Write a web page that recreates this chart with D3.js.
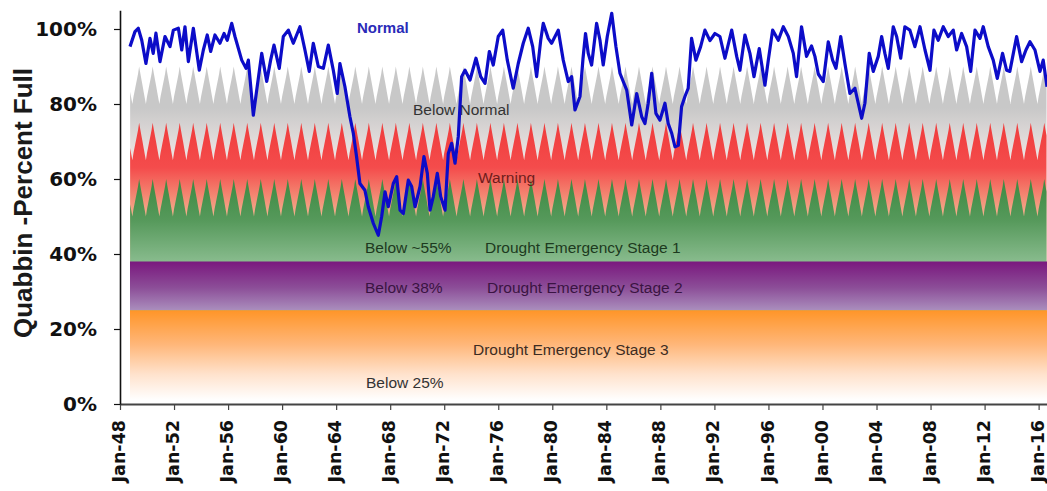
<!DOCTYPE html>
<html>
<head>
<meta charset="utf-8">
<script src="https://cdn.jsdelivr.net/npm/d3@7"></script>
<style>
  body { margin: 0; background: #fff; }
  svg { display: block; }
</style>
</head>
<body>
<svg width="1047" height="491"></svg>
<script>
// Quabbin reservoir level vs drought plan thresholds

// Reservoir level (decimal year, percent full)
const lineDates = [
  1948.74, 1949.11, 1949.35, 1949.61, 1949.92, 1950.22, 1950.46, 1950.66, 1950.96, 1951.33,
  1951.70, 1951.95, 1952.32, 1952.57, 1952.81, 1953.06, 1953.43, 1953.87, 1954.17, 1954.46,
  1954.71, 1955.03, 1955.40, 1955.70, 1955.94, 1956.27, 1956.51, 1957.01, 1957.33, 1957.50,
  1957.87, 1958.12, 1958.49, 1958.86, 1959.15, 1959.40, 1959.79, 1960.09, 1960.46, 1960.83,
  1961.32, 1961.69, 1962.01, 1962.31, 1962.68, 1963.05, 1963.42, 1963.79, 1964.08, 1964.28,
  1964.65, 1965.02, 1965.27, 1965.51, 1965.76, 1966.13, 1966.38, 1966.75, 1967.12, 1967.37,
  1967.62, 1967.86, 1968.23, 1968.48, 1968.73, 1968.97, 1969.34, 1969.59, 1969.84, 1970.21,
  1970.50, 1970.75, 1970.95, 1971.19, 1971.49, 1971.74, 1972.06, 1972.30, 1972.55, 1972.80,
  1973.04, 1973.29, 1973.54, 1973.91, 1974.35, 1974.70, 1975.02, 1975.34, 1975.63, 1976.00,
  1976.33, 1976.67, 1977.11, 1977.48, 1977.85, 1978.22, 1978.55, 1978.84, 1979.14, 1979.33,
  1979.70, 1979.95, 1980.44, 1980.81, 1981.18, 1981.43, 1981.68, 1982.05, 1982.27, 1982.46,
  1982.66, 1982.91, 1983.28, 1983.53, 1983.77, 1984.07, 1984.40, 1984.71, 1985.01, 1985.25,
  1985.51, 1985.88, 1986.25, 1986.62, 1986.86, 1987.10, 1987.36, 1987.67, 1987.97, 1988.34,
  1988.58, 1988.84, 1989.08, 1989.33, 1989.57, 1989.82, 1990.06, 1990.31, 1990.63, 1990.98,
  1991.30, 1991.67, 1992.04, 1992.41, 1992.78, 1993.28, 1993.65, 1993.89, 1994.26, 1994.63,
  1994.93, 1995.32, 1995.74, 1995.99, 1996.31, 1996.73, 1997.10, 1997.47, 1997.84, 1998.08,
  1998.45, 1998.82, 1999.19, 1999.44, 1999.69, 2000.06, 2000.43, 2000.75, 2001.00, 2001.35,
  2001.66, 2002.03, 2002.40, 2002.65, 2002.90, 2003.14, 2003.46, 2003.76, 2004.13, 2004.38,
  2004.62, 2004.87, 2005.24, 2005.49, 2005.79, 2006.10, 2006.47, 2006.84, 2007.22, 2007.59,
  2007.96, 2008.25, 2008.57, 2008.94, 2009.31, 2009.68, 2009.93, 2010.30, 2010.67, 2010.97,
  2011.29, 2011.66, 2011.90, 2012.27, 2012.64, 2012.94, 2013.33, 2013.63, 2013.87, 2014.37,
  2014.74, 2015.06, 2015.36, 2015.73, 2016.10, 2016.34, 2016.62
];
const linePercent = [
  95.3, 99.3, 100.2, 97, 90.8, 97.5, 93.5, 98.9, 91.3, 98,
  95.3, 99.7, 100.2, 94.4, 100.6, 91.3, 100.2, 89, 94.4, 98.4,
  94, 98.4, 96.2, 98.8, 97, 101.5, 98, 91.7, 89.5, 91.7,
  77, 83.7, 93.5, 86, 91.7, 95.7, 89.5, 98, 99.7, 96.2,
  100.6, 94.4, 88.7, 96.2, 90, 89.5, 95.7, 89, 82.8, 90.8,
  84.6, 76.6, 72.2, 66, 58.8, 57, 52.6, 48.2, 45, 50,
  56.6, 52.6, 58.8, 60.6, 51.7, 50.8, 59.7, 58, 52.6, 58,
  66, 61.5, 51.7, 55.3, 61.5, 55.3, 51.7, 66.8, 69.5, 64.2,
  71.3, 87.3, 89, 86.4, 92.2, 87.3, 85.5, 94, 90.4, 98,
  99.7, 91.7, 84.2, 90.8, 96.2, 100.2, 95.3, 87.3, 96.9, 101.5,
  97.5, 96.2, 99.7, 91.7, 86, 87.3, 78.4, 82, 92, 98.8,
  93.5, 90.4, 101.5, 97, 90.4, 98, 104.2, 95.3, 88.2, 86,
  83.7, 74.4, 82.8, 76.6, 74.8, 80.2, 88.2, 77.5, 75.7, 80.2,
  74.8, 72.2, 68.6, 69, 79.3, 82, 84.2, 97.5, 91.7, 95.3,
  99.7, 96.9, 98.8, 98, 92.2, 99.7, 92.7, 89, 98.4, 93.5,
  87.3, 94.8, 85, 91.7, 99.7, 97, 100.6, 98, 93.5, 87.3,
  100.6, 92.7, 95.5, 92.7, 88, 86, 96.6, 91.7, 89.5, 98,
  90.8, 82.8, 84.2, 80.2, 76.2, 80.2, 93.5, 88.7, 92.7, 98,
  93.5, 89.5, 100.6, 98, 92.2, 100.6, 99.7, 95.3, 100.6, 94.4,
  89, 99.7, 97, 100.6, 98, 99.7, 94.4, 98.8, 95.3, 88.7,
  99.7, 97.5, 100.6, 95.3, 91.7, 86.8, 93.5, 89, 88.7, 98,
  91.3, 94.4, 96.6, 94.4, 88.7, 91.7, 84.6
];

// Drought plan thresholds by month (Jan..Dec), repeated every year
const belowNormalMonthly = [82, 83.5, 85, 86.5, 88, 90, 88.3, 86.6, 85, 83.3, 81.6, 80];
const warningMonthly     = [67, 68.5, 70, 71.5, 73, 75, 73.3, 71.6, 70, 68.3, 66.6, 65];
const stage1Monthly      = [52, 53.5, 55, 56.5, 58, 60, 58.3, 56.6, 55, 53.3, 51.6, 50];
const stage2Level = 38;
const stage3Level = 25;

const yTicks = [0, 20, 40, 60, 80, 100];
const xTicks = d3.range(1948, 2017, 4);

// Set up svg and scales
const svg = d3.select("svg"),
    width = +svg.attr("width"),
    height = +svg.attr("height");

const startYear = lineDates[0],
    endYear = lineDates[lineDates.length - 1];

const x = d3.scaleLinear().domain([1948, 2016.62]).range([120, 1047]);
const y = d3.scaleLinear().domain([0, 105]).range([404, 10.25]);

const defs = svg.append("defs");

// Vertical gradient in user space, stops given as [percent, colour]
function addGradient(id, stops) {
    let g = defs.append("linearGradient")
        .attr("id", id)
        .attr("gradientUnits", "userSpaceOnUse")
        .attr("x1", 0).attr("x2", 0)
        .attr("y1", y(stops[0][0]))
        .attr("y2", y(stops[stops.length - 1][0]));
    let span = stops[0][0] - stops[stops.length - 1][0];
    stops.forEach(s => {
        g.append("stop")
            .attr("offset", (stops[0][0] - s[0]) / span)
            .attr("stop-color", s[1]);
    });
}

addGradient("grayFill",   [[90, "#c8c8c8"], [79, "#c8c8c8"], [64, "#f3e9e7"]]);
addGradient("redFill",    [[75, "#f03c3c"], [63, "#f44c4c"], [50, "#f3b38f"]]);
addGradient("greenFill",  [[60, "#3c8a41"], [49, "#56995b"], [38, "#88bb8d"]]);
addGradient("purpleFill", [[38, "#7a187e"], [31, "#8c4e98"], [25, "#aa8ebd"]]);
addGradient("orangeFill", [[25, "#ff9528"], [16, "#ffb678"], [8, "#ffe2cc"], [1, "#ffffff"]]);

// Expand a monthly profile into a curve over the whole period
function thresholdCurve(monthly) {
    let pts = [];
    for (let yr = 1948; yr <= 2016; yr++) {
        monthly.forEach((v, m) => {
            let t = yr + m / 12;
            if (t >= startYear && t <= endYear) pts.push({t: t, v: v});
        });
    }
    return pts;
}

const area = d3.area()
    .x(d => x(d.t))
    .y0(y(0))
    .y1(d => y(d.v));

let bands = svg.append("g");

bands.append("path")
    .datum(thresholdCurve(belowNormalMonthly))
    .attr("fill", "url(#grayFill)")
    .attr("d", area);

bands.append("path")
    .datum(thresholdCurve(warningMonthly))
    .attr("fill", "url(#redFill)")
    .attr("d", area);

bands.append("path")
    .datum(thresholdCurve(stage1Monthly))
    .attr("fill", "url(#greenFill)")
    .attr("d", area);

bands.append("rect")
    .attr("x", x(startYear))
    .attr("width", x(endYear) - x(startYear))
    .attr("y", y(stage2Level))
    .attr("height", y(stage3Level) - y(stage2Level))
    .attr("fill", "url(#purpleFill)");

bands.append("rect")
    .attr("x", x(startYear))
    .attr("width", x(endYear) - x(startYear))
    .attr("y", y(stage3Level))
    .attr("height", y(0) - y(stage3Level))
    .attr("fill", "url(#orangeFill)");

// Band labels
const labels = [
    {text: "Below Normal", x: 413, y: 115, fill: "#333"},
    {text: "Warning", x: 478, y: 183, fill: "#6e1c1c"},
    {text: "Below ~55%", x: 365, y: 253, fill: "#1d3a20"},
    {text: "Drought Emergency Stage 1", x: 485, y: 253, fill: "#1d3a20"},
    {text: "Below 38%", x: 365, y: 293, fill: "#3a1442"},
    {text: "Drought Emergency Stage 2", x: 487, y: 293, fill: "#3a1442"},
    {text: "Drought Emergency Stage 3", x: 473, y: 355, fill: "#3d2c22"},
    {text: "Below 25%", x: 366, y: 388, fill: "#333"}
];

svg.append("g")
    .selectAll("text")
    .data(labels)
    .enter().append("text")
    .attr("x", d => d.x)
    .attr("y", d => d.y)
    .attr("fill", d => d.fill)
    .style("font-family", "'Liberation Sans', Arial, sans-serif")
    .style("font-size", "15.5px")
    .text(d => d.text);

svg.append("text")
    .attr("x", 357)
    .attr("y", 32.5)
    .attr("fill", "#2a2ab8")
    .style("font-family", "'Liberation Sans', Arial, sans-serif")
    .style("font-size", "15px")
    .style("font-weight", "bold")
    .text("Normal");

// Reservoir line
const levels = lineDates.map((d, i) => ({t: d, v: linePercent[i]}));

svg.append("path")
    .datum(levels)
    .attr("fill", "none")
    .attr("stroke", "#0c0cc8")
    .attr("stroke-width", 3.2)
    .attr("stroke-linejoin", "round")
    .attr("d", d3.line().x(d => x(d.t)).y(d => y(d.v)));

// Axes
let xAxis = svg.append("g")
    .attr("transform", "translate(0," + y(0) + ")")
    .call(d3.axisBottom(x)
        .tickValues(xTicks)
        .tickFormat(d => "Jan-" + String(d).slice(2))
        .tickSize(6)
        .tickSizeOuter(0));

xAxis.select(".domain").attr("stroke", "#444").attr("stroke-width", 2);
xAxis.selectAll(".tick line").attr("stroke", "#444").attr("stroke-width", 1.2);
xAxis.selectAll("text")
    .attr("transform", "rotate(-90)")
    .attr("text-anchor", "end")
    .attr("x", -16)
    .attr("y", 0)
    .attr("dy", "0.26em")
    .attr("fill", "#111")
    .style("font-family", "'DejaVu Sans', sans-serif")
    .style("font-weight", "bold")
    .style("font-size", "17.5px");

let yAxis = svg.append("g")
    .attr("transform", "translate(120,0)")
    .call(d3.axisLeft(y)
        .tickValues(yTicks)
        .tickFormat(d => d + "%")
        .tickSize(6)
        .tickPadding(17)
        .tickSizeOuter(0));

yAxis.select(".domain").attr("stroke", "#111").attr("stroke-width", 1.6);
yAxis.selectAll(".tick line").attr("stroke", "#111").attr("stroke-width", 1.2);
yAxis.selectAll("text")
    .attr("fill", "#111")
    .style("font-family", "'DejaVu Sans', sans-serif")
    .style("font-weight", "bold")
    .style("font-size", "20px");

// Y axis title
svg.append("text")
    .attr("transform", "translate(32,203) rotate(-90)")
    .attr("text-anchor", "middle")
    .attr("fill", "#1a1a1a")
    .style("font-family", "'Liberation Sans', Arial, sans-serif")
    .style("font-weight", "bold")
    .style("font-size", "26px")
    .text("Quabbin -Percent Full");
</script>
</body>
</html>
